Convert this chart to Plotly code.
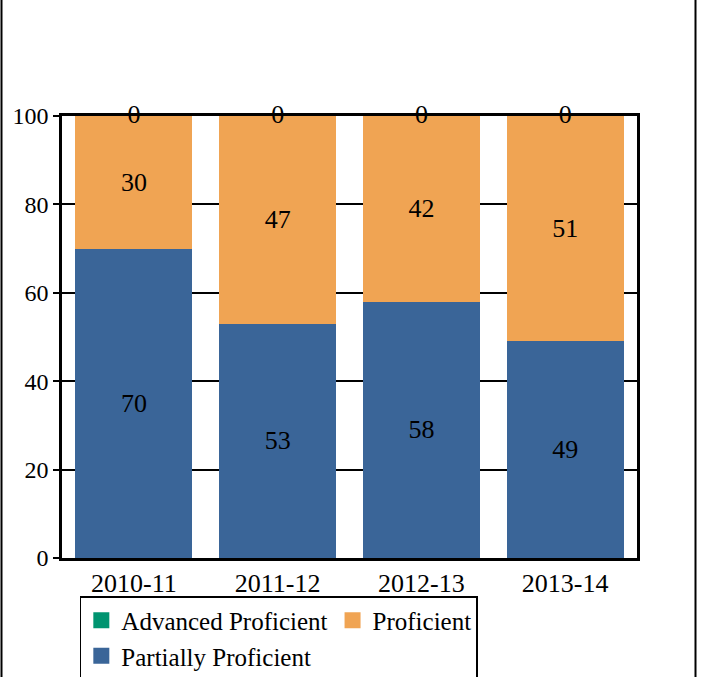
import plotly.graph_objects as go

# --- Data ---
years = ["2010-11", "2011-12", "2012-13", "2013-14"]
partially_proficient = [70, 53, 58, 49]
proficient = [30, 47, 42, 51]
advanced_proficient = [0, 0, 0, 0]

# --- Style ---
font_family = "Times New Roman, Liberation Serif, serif"
col_advanced = "rgb(0,148,112)"
col_proficient = "rgb(240,164,83)"
col_partial = "rgb(58,101,152)"
label_font = dict(color="black", size=26, family=font_family)

fig = go.Figure()

# stack order bottom -> top
fig.add_trace(
    go.Bar(
        x=years,
        y=partially_proficient,
        name="Partially Proficient",
        marker=dict(color=col_partial, line=dict(width=0)),
        text=partially_proficient,
        textposition="inside",
        insidetextanchor="middle",
        insidetextfont=label_font,
        showlegend=False,
    )
)
fig.add_trace(
    go.Bar(
        x=years,
        y=proficient,
        name="Proficient",
        marker=dict(color=col_proficient, line=dict(width=0)),
        text=proficient,
        textposition="inside",
        insidetextanchor="middle",
        insidetextfont=label_font,
        showlegend=False,
    )
)
fig.add_trace(
    go.Bar(
        x=years,
        y=advanced_proficient,
        name="Advanced Proficient",
        marker=dict(color=col_advanced, line=dict(width=0)),
        hoverinfo="skip",
        showlegend=False,
    )
)

# zero-height segment labels sit on top of the stack
stack_top = [a + b + c for a, b, c in zip(partially_proficient, proficient, advanced_proficient)]
fig.add_trace(
    go.Scatter(
        x=years,
        y=stack_top,
        mode="text",
        text=advanced_proficient,
        textposition="middle center",
        textfont=label_font,
        cliponaxis=False,
        showlegend=False,
        hoverinfo="skip",
    )
)

# legend entries with bigger square swatches
for name, col in [
    ("Partially Proficient", col_partial),
    ("Proficient", col_proficient),
    ("Advanced Proficient", col_advanced),
]:
    fig.add_trace(
        go.Scatter(
            x=[None],
            y=[None],
            mode="markers",
            name=name,
            marker=dict(symbol="square", size=16, color=col),
        )
    )

# outer frame (left / right edges of the original graphic)
for xp in [(1.5 - 62) / 575, (695.5 - 62) / 575]:
    fig.add_shape(
        type="line",
        xref="paper",
        yref="paper",
        x0=xp,
        x1=xp,
        y0=-0.4,
        y1=1.4,
        line=dict(color="black", width=2),
    )

fig.update_layout(
    width=702,
    height=677,
    barmode="stack",
    bargap=0.185,
    margin=dict(l=62, r=65, t=116, b=119, autoexpand=False),
    paper_bgcolor="white",
    plot_bgcolor="white",
    font=dict(family=font_family, size=24, color="black"),
    showlegend=True,
    legend=dict(
        orientation="h",
        traceorder="reversed",
        x=0.031,
        xanchor="left",
        y=-0.086,
        yanchor="top",
        bgcolor="white",
        bordercolor="black",
        borderwidth=1.5,
        font=dict(family=font_family, size=25, color="black"),
        itemwidth=30,
    ),
)

fig.update_xaxes(
    type="category",
    showline=True,
    linecolor="black",
    linewidth=3,
    mirror=True,
    showgrid=False,
    ticks="",
    tickfont=dict(size=26, family=font_family, color="black"),
)
fig.update_yaxes(
    range=[0, 100],
    tickvals=[0, 20, 40, 60, 80, 100],
    showline=True,
    linecolor="black",
    linewidth=2.5,
    mirror=True,
    showgrid=True,
    gridcolor="black",
    gridwidth=2,
    ticks="outside",
    ticklen=6,
    tickwidth=2,
    tickcolor="black",
    zeroline=False,
    tickfont=dict(size=24, family=font_family, color="black"),
)

# drop the browser's default body margin so the figure sits at the page origin
fig.write_html(
    "out.html",
    config={"displayModeBar": False},
    post_script="document.body.style.margin = '0';",
)
